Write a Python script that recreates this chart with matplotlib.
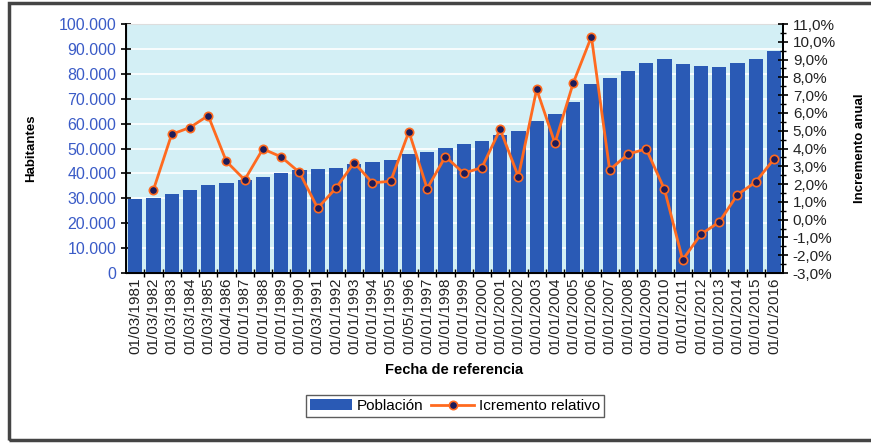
import matplotlib
matplotlib.use("Agg")
from matplotlib import pyplot as plt
from matplotlib.patches import Rectangle
from matplotlib.ticker import FuncFormatter, MultipleLocator

plt.rcParams["font.family"] = ["Liberation Sans", "DejaVu Sans"]

fechas = ["01/03/1981", "01/03/1982", "01/03/1983", "01/03/1984", "01/03/1985",
          "01/04/1986", "01/01/1987", "01/01/1988", "01/01/1989", "01/01/1990",
          "01/03/1991", "01/01/1992", "01/01/1993", "01/01/1994", "01/01/1995",
          "01/05/1996", "01/01/1997", "01/01/1998", "01/01/1999", "01/01/2000",
          "01/01/2001", "01/01/2002", "01/01/2003", "01/01/2004", "01/01/2005",
          "01/01/2006", "01/01/2007", "01/01/2008", "01/01/2009", "01/01/2010",
          "01/01/2011", "01/01/2012", "01/01/2013", "01/01/2014", "01/01/2015",
          "01/01/2016"]

poblacion = [29800, 30300, 31700, 33300, 35200, 36300, 37400, 38700, 40000, 41500,
             41600, 42000, 43800, 44400, 45400, 47700, 48500, 50300, 51700, 53000,
             55500, 57000, 61200, 63900, 68800, 75900, 78300, 81100, 84500, 85800,
             83800, 83100, 82900, 84500, 85900, 89300]

# incremento relativo (%), el primer año no tiene valor
incremento = [None, 1.67, 4.8, 5.18, 5.85, 3.27, 2.24, 3.98, 3.53, 2.66,
              0.65, 1.77, 3.21, 2.07, 2.16, 4.95, 1.75, 3.55, 2.61, 2.93,
              5.08, 2.42, 7.33, 4.3, 7.67, 10.29, 2.8, 3.68, 3.98, 1.71,
              -2.26, -0.82, -0.14, 1.4, 2.12, 3.4]

x = list(range(len(fechas)))
xi = [i for i in x if incremento[i] is not None]
yi = [incremento[i] for i in xi]

azul = "#2a5ab5"
naranja = "#ff6a1f"

fig = plt.figure(figsize=(8.71, 4.43), dpi=100)
ax = fig.add_axes([0.1447, 0.3837, 0.7543, 0.5621])
ax.set_facecolor("#d3eff5")

barras = ax.bar(x, poblacion, width=0.78, color=azul, zorder=2, label="Población")
ax.set_xlim(-0.5, len(fechas) - 0.5)
ax.set_ylim(0, 100000)
ax.yaxis.set_major_locator(MultipleLocator(10000))
ax.yaxis.set_major_formatter(FuncFormatter(lambda v, p: f"{int(v):,}".replace(",", ".")))
ax.grid(axis="y", color="white", linewidth=1.2, zorder=1)
ax.set_axisbelow(True)

ax.set_xticks(x)
ax.set_xticklabels(fechas, rotation=90, fontsize=11, color="#222222")
ax.set_xticks([i + 0.5 for i in x[:-1]], minor=True)
ax.tick_params(axis="x", which="major", length=0)
ax.tick_params(axis="x", which="minor", length=6, direction="inout", width=1)
ax.tick_params(axis="y", length=7, direction="inout", width=1.2, labelsize=11.5,
               labelcolor="#3a5bc7")

ax.set_ylabel("Habitantes", fontsize=9.5, fontweight="bold")
ax.yaxis.set_label_coords(-0.135, 0.5)
ax.set_xlabel("Fecha de referencia", fontsize=10.5, fontweight="bold", labelpad=6)

for s in ["left", "bottom", "right"]:
    ax.spines[s].set_linewidth(1.4)
ax.spines["top"].set_color("#dddddd")

ax2 = ax.twinx()
linea, = ax2.plot(xi, yi, color=naranja, linewidth=2, marker="o", markersize=6,
                  markerfacecolor="#1c1c5a", markeredgecolor=naranja,
                  markeredgewidth=1.2, zorder=3, label="Icremento relativo")
ax2.set_ylim(-3, 11)
ax2.yaxis.set_major_locator(MultipleLocator(1))
ax2.yaxis.set_minor_locator(MultipleLocator(0.5))
ax2.yaxis.set_major_formatter(FuncFormatter(lambda v, p: f"{v:.1f}%".replace(".", ",")))
ax2.tick_params(axis="y", which="major", length=7, direction="inout", width=1.2,
                labelsize=11, labelcolor="#222222")
ax2.tick_params(axis="y", which="minor", length=4, direction="inout", width=1)
ax2.set_ylabel("Incremento anual", fontsize=9.5, fontweight="bold")
ax2.yaxis.set_label_coords(1.108, 0.5)
ax2.spines["right"].set_linewidth(1.4)
ax2.spines["top"].set_visible(False)

fig.legend([barras, linea], ["Población", "Icremento relativo"], loc="center",
           bbox_to_anchor=(0.522, 0.0835), ncol=2, frameon=True,
           fancybox=False, edgecolor="#333333", handlelength=2.8, columnspacing=0.5,
           handletextpad=0.3, borderpad=0.25, prop={"size": 11})

# marco exterior de la imagen
fig.patches.append(Rectangle((9 / 871, 3 / 443), 1.1, 1 - 6 / 443,
                             transform=fig.transFigure, fill=False,
                             edgecolor="#444444", linewidth=2.5))

plt.savefig("out.png", dpi=100)
plt.close()
